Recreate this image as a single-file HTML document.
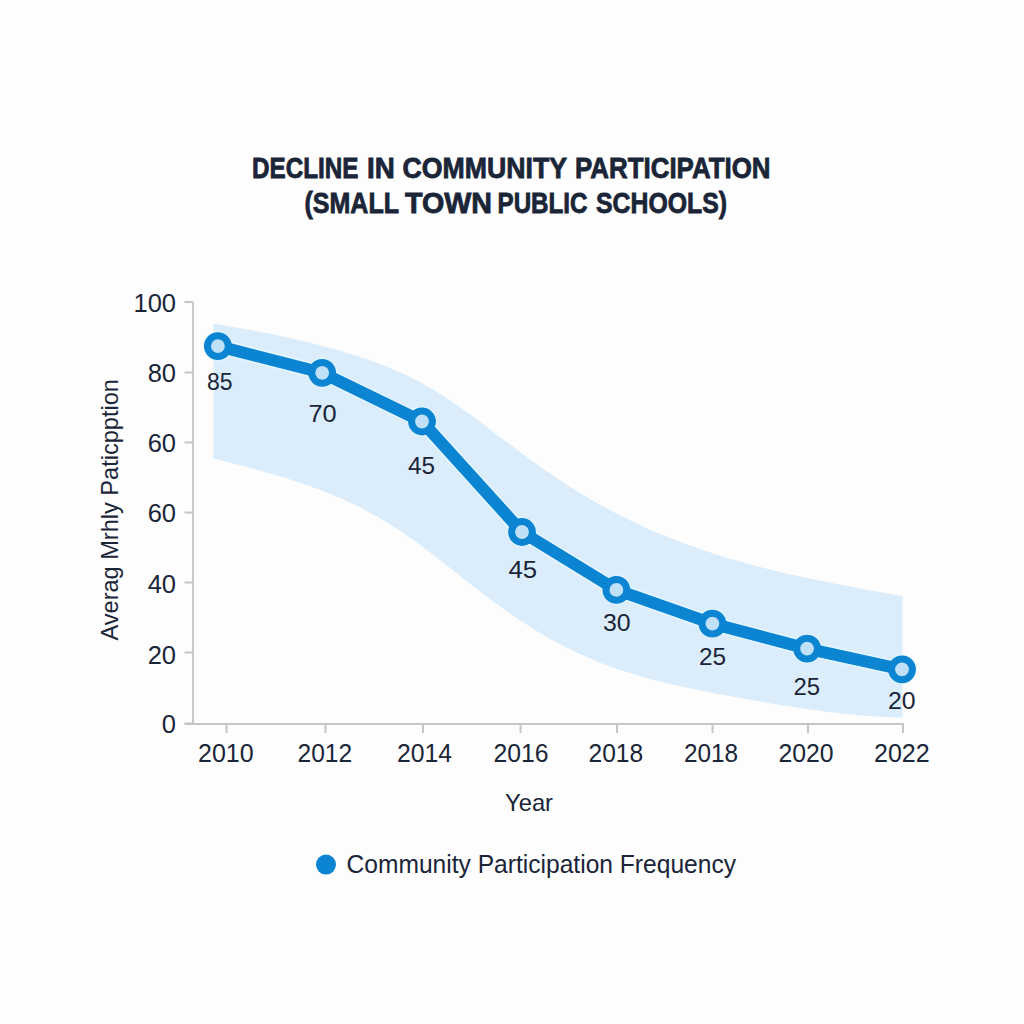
<!DOCTYPE html>
<html><head><meta charset="utf-8"><style>
html,body{margin:0;padding:0;background:#fdfdfd;}
body{width:1024px;height:1024px;overflow:hidden;font-family:"Liberation Sans",sans-serif;}
svg{display:block;}
</style></head><body>
<svg width="1024" height="1024" viewBox="0 0 1024 1024">
<rect width="1024" height="1024" fill="#fdfdfd"/>
<path d="M213.5 323.8 L218.5 324.6 L223.4 325.3 L228.4 326.1 L233.3 327.0 L238.3 327.8 L243.2 328.7 L248.2 329.6 L253.2 330.5 L258.1 331.4 L263.1 332.4 L268.0 333.3 L273.0 334.3 L277.9 335.4 L282.9 336.4 L287.9 337.5 L292.8 338.6 L297.8 339.8 L302.7 340.9 L307.7 342.1 L312.6 343.4 L317.6 344.6 L322.6 345.9 L327.5 347.3 L332.5 348.6 L337.4 350.1 L342.4 351.5 L347.3 353.0 L352.3 354.5 L357.2 356.1 L362.2 357.7 L367.2 359.4 L372.1 361.1 L377.1 362.9 L382.0 364.8 L387.0 366.8 L391.9 368.8 L396.9 371.0 L401.9 373.2 L406.8 375.5 L411.8 377.9 L416.7 380.5 L421.7 383.1 L426.6 385.9 L431.6 388.8 L436.6 391.8 L441.5 394.9 L446.5 398.1 L451.4 401.4 L456.4 404.8 L461.3 408.2 L466.3 411.7 L471.3 415.3 L476.2 419.0 L481.2 422.7 L486.1 426.4 L491.1 430.2 L496.0 433.9 L501.0 437.7 L506.0 441.5 L510.9 445.2 L515.9 448.9 L520.8 452.6 L525.8 456.3 L530.7 459.9 L535.7 463.4 L540.7 466.9 L545.6 470.4 L550.6 473.8 L555.5 477.2 L560.5 480.5 L565.4 483.8 L570.4 487.0 L575.3 490.1 L580.3 493.2 L585.3 496.2 L590.2 499.1 L595.2 501.9 L600.1 504.7 L605.1 507.5 L610.0 510.2 L615.0 512.8 L620.0 515.3 L624.9 517.8 L629.9 520.2 L634.8 522.6 L639.8 524.9 L644.7 527.2 L649.7 529.4 L654.7 531.6 L659.6 533.7 L664.6 535.7 L669.5 537.7 L674.5 539.7 L679.4 541.6 L684.4 543.5 L689.4 545.3 L694.3 547.1 L699.3 548.8 L704.2 550.5 L709.2 552.1 L714.1 553.8 L719.1 555.3 L724.1 556.9 L729.0 558.4 L734.0 559.8 L738.9 561.2 L743.9 562.6 L748.8 564.0 L753.8 565.3 L758.8 566.6 L763.7 567.9 L768.7 569.1 L773.6 570.4 L778.6 571.5 L783.5 572.7 L788.5 573.9 L793.4 575.0 L798.4 576.1 L803.4 577.2 L808.3 578.2 L813.3 579.3 L818.2 580.3 L823.2 581.3 L828.1 582.3 L833.1 583.3 L838.1 584.2 L843.0 585.2 L848.0 586.1 L852.9 587.1 L857.9 588.0 L862.8 588.9 L867.8 589.8 L872.8 590.7 L877.7 591.6 L882.7 592.6 L887.6 593.5 L892.6 594.4 L897.5 595.3 L902.5 596.2 L902.5 717.6 L897.5 717.4 L892.6 717.3 L887.6 717.0 L882.7 716.8 L877.7 716.5 L872.8 716.2 L867.8 715.8 L862.8 715.4 L857.9 715.0 L852.9 714.6 L848.0 714.1 L843.0 713.6 L838.1 713.0 L833.1 712.5 L828.1 711.9 L823.2 711.2 L818.2 710.6 L813.3 709.9 L808.3 709.2 L803.4 708.5 L798.4 707.8 L793.4 707.1 L788.5 706.3 L783.5 705.5 L778.6 704.7 L773.6 703.9 L768.7 703.1 L763.7 702.2 L758.8 701.3 L753.8 700.5 L748.8 699.6 L743.9 698.7 L738.9 697.8 L734.0 696.9 L729.0 696.0 L724.1 695.1 L719.1 694.2 L714.1 693.2 L709.2 692.3 L704.2 691.3 L699.3 690.3 L694.3 689.3 L689.4 688.3 L684.4 687.2 L679.4 686.1 L674.5 685.0 L669.5 683.9 L664.6 682.7 L659.6 681.4 L654.7 680.2 L649.7 678.9 L644.7 677.5 L639.8 676.1 L634.8 674.6 L629.9 673.1 L624.9 671.5 L620.0 669.9 L615.0 668.2 L610.0 666.4 L605.1 664.6 L600.1 662.7 L595.2 660.7 L590.2 658.6 L585.3 656.5 L580.3 654.3 L575.3 652.0 L570.4 649.6 L565.4 647.1 L560.5 644.6 L555.5 641.9 L550.6 639.2 L545.6 636.3 L540.7 633.4 L535.7 630.4 L530.7 627.3 L525.8 624.1 L520.8 620.9 L515.9 617.5 L510.9 614.1 L506.0 610.7 L501.0 607.1 L496.0 603.5 L491.1 599.9 L486.1 596.2 L481.2 592.4 L476.2 588.6 L471.3 584.8 L466.3 580.9 L461.3 577.0 L456.4 573.1 L451.4 569.1 L446.5 565.2 L441.5 561.3 L436.6 557.5 L431.6 553.6 L426.6 549.9 L421.7 546.1 L416.7 542.5 L411.8 538.9 L406.8 535.4 L401.9 532.0 L396.9 528.7 L391.9 525.5 L387.0 522.5 L382.0 519.5 L377.1 516.6 L372.1 513.9 L367.2 511.2 L362.2 508.6 L357.2 506.1 L352.3 503.7 L347.3 501.4 L342.4 499.1 L337.4 497.0 L332.5 494.9 L327.5 492.9 L322.6 490.9 L317.6 489.0 L312.6 487.2 L307.7 485.4 L302.7 483.7 L297.8 482.0 L292.8 480.4 L287.9 478.8 L282.9 477.3 L277.9 475.8 L273.0 474.3 L268.0 472.9 L263.1 471.5 L258.1 470.1 L253.2 468.7 L248.2 467.4 L243.2 466.1 L238.3 464.8 L233.3 463.5 L228.4 462.2 L223.4 460.9 L218.5 459.7 L213.5 458.4 Z" fill="#dbedfb"/>
<path d="M193 302 V724 M184.5 724 H904" stroke="#c4c5c6" stroke-width="1.8" fill="none"/>
<path d="M184.5 302 H193" stroke="#c4c5c6" stroke-width="2"/>
<path d="M184.5 372.5 H193" stroke="#c4c5c6" stroke-width="2"/>
<path d="M184.5 442.5 H193" stroke="#c4c5c6" stroke-width="2"/>
<path d="M184.5 512.5 H193" stroke="#c4c5c6" stroke-width="2"/>
<path d="M184.5 582.5 H193" stroke="#c4c5c6" stroke-width="2"/>
<path d="M184.5 652.5 H193" stroke="#c4c5c6" stroke-width="2"/>
<path d="M184.5 723.5 H193" stroke="#c4c5c6" stroke-width="2"/>
<path d="M226.5 724 V733" stroke="#c4c5c6" stroke-width="2"/>
<path d="M325.5 724 V733" stroke="#c4c5c6" stroke-width="2"/>
<path d="M423 724 V733" stroke="#c4c5c6" stroke-width="2"/>
<path d="M520.5 724 V733" stroke="#c4c5c6" stroke-width="2"/>
<path d="M617 724 V733" stroke="#c4c5c6" stroke-width="2"/>
<path d="M712.5 724 V733" stroke="#c4c5c6" stroke-width="2"/>
<path d="M808 724 V733" stroke="#c4c5c6" stroke-width="2"/>
<path d="M903 724 V733" stroke="#c4c5c6" stroke-width="2"/>
<path d="M217.9 346.1 L322.2 372.8 L422.0 421.5 L522.0 532.0 L616.4 589.9 L712.4 623.6 L807.1 648.6 L902.0 669.3" stroke="#e4f6fe" stroke-width="15" fill="none" stroke-linejoin="round"/>
<circle cx="217.9" cy="346.1" r="14.8" fill="#e4f6fe"/>
<circle cx="322.2" cy="372.8" r="14.8" fill="#e4f6fe"/>
<circle cx="422" cy="421.5" r="14.8" fill="#e4f6fe"/>
<circle cx="522" cy="532" r="14.8" fill="#e4f6fe"/>
<circle cx="616.4" cy="589.9" r="14.8" fill="#e4f6fe"/>
<circle cx="712.4" cy="623.6" r="14.8" fill="#e4f6fe"/>
<circle cx="807.1" cy="648.6" r="14.8" fill="#e4f6fe"/>
<circle cx="902" cy="669.3" r="14.8" fill="#e4f6fe"/>
<path d="M217.9 346.1 L322.2 372.8 L422.0 421.5 L522.0 532.0 L616.4 589.9 L712.4 623.6 L807.1 648.6 L902.0 669.3" stroke="#0b84d2" stroke-width="12" fill="none" stroke-linejoin="round"/>
<circle cx="217.9" cy="346.1" r="10.4" fill="#bfe0f7" stroke="#0b84d2" stroke-width="7"/>
<circle cx="322.2" cy="372.8" r="10.4" fill="#bfe0f7" stroke="#0b84d2" stroke-width="7"/>
<circle cx="422" cy="421.5" r="10.4" fill="#bfe0f7" stroke="#0b84d2" stroke-width="7"/>
<circle cx="522" cy="532" r="10.4" fill="#bfe0f7" stroke="#0b84d2" stroke-width="7"/>
<circle cx="616.4" cy="589.9" r="10.4" fill="#bfe0f7" stroke="#0b84d2" stroke-width="7"/>
<circle cx="712.4" cy="623.6" r="10.4" fill="#bfe0f7" stroke="#0b84d2" stroke-width="7"/>
<circle cx="807.1" cy="648.6" r="10.4" fill="#bfe0f7" stroke="#0b84d2" stroke-width="7"/>
<circle cx="902" cy="669.3" r="10.4" fill="#bfe0f7" stroke="#0b84d2" stroke-width="7"/>
<text x="252.00" y="177.5" font-family="Liberation Sans, sans-serif" font-size="29.0" font-weight="bold" fill="#1a2538" stroke="#1a2538" stroke-width="0.8" textLength="106.52" lengthAdjust="spacingAndGlyphs">DECLINE</text>
<text x="367.00" y="177.5" font-family="Liberation Sans, sans-serif" font-size="29.0" font-weight="bold" fill="#1a2538" stroke="#1a2538" stroke-width="0.8" textLength="27.77" lengthAdjust="spacingAndGlyphs">IN</text>
<text x="402.50" y="177.5" font-family="Liberation Sans, sans-serif" font-size="29.0" font-weight="bold" fill="#1a2538" stroke="#1a2538" stroke-width="0.8" textLength="164.51" lengthAdjust="spacingAndGlyphs">COMMUNITY</text>
<text x="575.00" y="177.5" font-family="Liberation Sans, sans-serif" font-size="29.0" font-weight="bold" fill="#1a2538" stroke="#1a2538" stroke-width="0.8" textLength="195.53" lengthAdjust="spacingAndGlyphs">PARTICIPATION</text>
<text x="304.50" y="212.5" font-family="Liberation Sans, sans-serif" font-size="29.0" font-weight="bold" fill="#1a2538" stroke="#1a2538" stroke-width="0.8" textLength="94.51" lengthAdjust="spacingAndGlyphs">(SMALL</text>
<text x="405.00" y="212.5" font-family="Liberation Sans, sans-serif" font-size="29.0" font-weight="bold" fill="#1a2538" stroke="#1a2538" stroke-width="0.8" textLength="87.03" lengthAdjust="spacingAndGlyphs">TOWN</text>
<text x="497.50" y="212.5" font-family="Liberation Sans, sans-serif" font-size="29.0" font-weight="bold" fill="#1a2538" stroke="#1a2538" stroke-width="0.8" textLength="90.02" lengthAdjust="spacingAndGlyphs">PUBLIC</text>
<text x="596.00" y="212.5" font-family="Liberation Sans, sans-serif" font-size="29.0" font-weight="bold" fill="#1a2538" stroke="#1a2538" stroke-width="0.8" textLength="131.01" lengthAdjust="spacingAndGlyphs">SCHOOLS)</text>
<text x="198.00" y="762.3" font-family="Liberation Sans, sans-serif" font-size="25.5" fill="#1a2538" textLength="55.62" lengthAdjust="spacingAndGlyphs">2010</text>
<text x="297.50" y="762.3" font-family="Liberation Sans, sans-serif" font-size="25.5" fill="#1a2538" textLength="54.61" lengthAdjust="spacingAndGlyphs">2012</text>
<text x="397.00" y="762.3" font-family="Liberation Sans, sans-serif" font-size="25.5" fill="#1a2538" textLength="55.05" lengthAdjust="spacingAndGlyphs">2014</text>
<text x="493.50" y="762.3" font-family="Liberation Sans, sans-serif" font-size="25.5" fill="#1a2538" textLength="55.09" lengthAdjust="spacingAndGlyphs">2016</text>
<text x="588.50" y="762.3" font-family="Liberation Sans, sans-serif" font-size="25.5" fill="#1a2538" textLength="54.57" lengthAdjust="spacingAndGlyphs">2018</text>
<text x="684.00" y="762.3" font-family="Liberation Sans, sans-serif" font-size="25.5" fill="#1a2538" textLength="54.05" lengthAdjust="spacingAndGlyphs">2018</text>
<text x="778.50" y="762.3" font-family="Liberation Sans, sans-serif" font-size="25.5" fill="#1a2538" textLength="55.10" lengthAdjust="spacingAndGlyphs">2020</text>
<text x="874.00" y="762.3" font-family="Liberation Sans, sans-serif" font-size="25.5" fill="#1a2538" textLength="55.66" lengthAdjust="spacingAndGlyphs">2022</text>
<text x="207.00" y="390.0" font-family="Liberation Sans, sans-serif" font-size="24.5" fill="#1a2538" textLength="25.58" lengthAdjust="spacingAndGlyphs">85</text>
<text x="308.50" y="421.6" font-family="Liberation Sans, sans-serif" font-size="24.5" fill="#1a2538" textLength="28.23" lengthAdjust="spacingAndGlyphs">70</text>
<text x="408.00" y="474.3" font-family="Liberation Sans, sans-serif" font-size="24.5" fill="#1a2538" textLength="27.06" lengthAdjust="spacingAndGlyphs">45</text>
<text x="508.50" y="577.7" font-family="Liberation Sans, sans-serif" font-size="24.5" fill="#1a2538" textLength="28.66" lengthAdjust="spacingAndGlyphs">45</text>
<text x="603.00" y="631.4" font-family="Liberation Sans, sans-serif" font-size="24.5" fill="#1a2538" textLength="27.67" lengthAdjust="spacingAndGlyphs">30</text>
<text x="699.00" y="665.0" font-family="Liberation Sans, sans-serif" font-size="24.5" fill="#1a2538" textLength="27.19" lengthAdjust="spacingAndGlyphs">25</text>
<text x="793.50" y="695.2" font-family="Liberation Sans, sans-serif" font-size="24.5" fill="#1a2538" textLength="26.61" lengthAdjust="spacingAndGlyphs">25</text>
<text x="888.00" y="708.8" font-family="Liberation Sans, sans-serif" font-size="24.5" fill="#1a2538" textLength="27.64" lengthAdjust="spacingAndGlyphs">20</text>
<text x="346.50" y="872.5" font-family="Liberation Sans, sans-serif" font-size="25.0" fill="#1a2538" textLength="389.51" lengthAdjust="spacingAndGlyphs">Community Participation Frequency</text>
<text x="505.00" y="810.5" font-family="Liberation Sans, sans-serif" font-size="24.0" fill="#1a2538" textLength="48.03" lengthAdjust="spacingAndGlyphs">Year</text>
<text x="176" y="312.2" font-family="Liberation Sans, sans-serif" font-size="25.5" fill="#1a2538" text-anchor="end">100</text>
<text x="176" y="382.2" font-family="Liberation Sans, sans-serif" font-size="25.5" fill="#1a2538" text-anchor="end">80</text>
<text x="176" y="452.2" font-family="Liberation Sans, sans-serif" font-size="25.5" fill="#1a2538" text-anchor="end">60</text>
<text x="176" y="522.2" font-family="Liberation Sans, sans-serif" font-size="25.5" fill="#1a2538" text-anchor="end">60</text>
<text x="176" y="592.7" font-family="Liberation Sans, sans-serif" font-size="25.5" fill="#1a2538" text-anchor="end">40</text>
<text x="176" y="664.2" font-family="Liberation Sans, sans-serif" font-size="25.5" fill="#1a2538" text-anchor="end">20</text>
<text x="176" y="733.2" font-family="Liberation Sans, sans-serif" font-size="25.5" fill="#1a2538" text-anchor="end">0</text>
<text transform="translate(118 509.8) rotate(-90)" x="0" y="0" font-family="Liberation Sans, sans-serif" font-size="24" fill="#1a2538" text-anchor="middle" textLength="261.5" lengthAdjust="spacingAndGlyphs">Averag Mrhly Paticpption</text>
<circle cx="326" cy="864.6" r="10" fill="#0b84d2"/>
</svg>
</body></html>
